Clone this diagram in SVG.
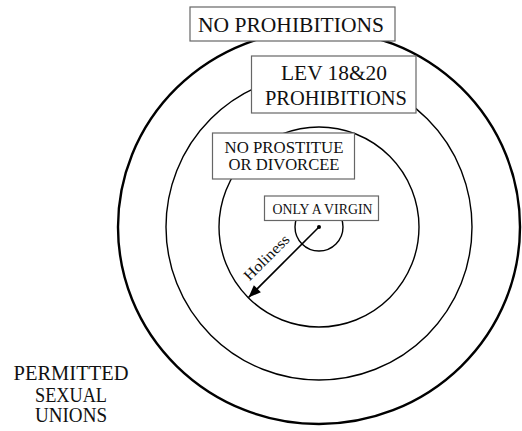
<svg xmlns="http://www.w3.org/2000/svg" width="522" height="431" viewBox="0 0 522 431" font-family="'Liberation Serif', 'DejaVu Serif', serif">
<style>
.ring{fill:none;stroke:#000;stroke-width:1.4}
.box{fill:#fff;stroke:#666;stroke-width:1.2}
text{fill:#111;text-anchor:middle}
</style>
<defs>
<marker id="ah" viewBox="0 0 10 8" refX="10" refY="4" markerWidth="15" markerHeight="10" markerUnits="userSpaceOnUse" orient="auto">
<path d="M0,0 L10,4 L0,8 Z" fill="#000"/>
</marker>
</defs>
<rect width="522" height="431" fill="#fff"/>
<g id="rings">
<ellipse id="ring-outer" cx="319" cy="227" rx="201" ry="197" fill="none" stroke="#000" stroke-width="2.4"/>
<circle id="ring-lev" class="ring" cx="319" cy="227" r="153"/>
<circle id="ring-prost" class="ring" cx="319" cy="227" r="100"/>
<circle id="ring-virgin" class="ring" cx="319" cy="227" r="24"/>
</g>
<g id="connectors">
<circle cx="319" cy="227" r="2" fill="#000"/>
<line x1="319" y1="227" x2="248.5" y2="297.5" stroke="#000" stroke-width="1.6" marker-end="url(#ah)"/>
<text x="0" y="0" font-size="15" textLength="58" lengthAdjust="spacingAndGlyphs" transform="translate(270,261) rotate(-45)">Holiness</text>
</g>
<g id="node-none">
<rect class="box" x="190" y="7" width="205" height="34"/>
<text x="291" y="32" font-size="21.5" textLength="186" lengthAdjust="spacingAndGlyphs">NO PROHIBITIONS</text>
</g>
<g id="node-lev">
<rect class="box" x="251.5" y="56" width="164.5" height="57"/>
<text x="334" y="79.5" font-size="20" textLength="106" lengthAdjust="spacingAndGlyphs">LEV 18&amp;20</text>
<text x="336" y="104.5" font-size="20" textLength="142" lengthAdjust="spacingAndGlyphs">PROHIBITIONS</text>
</g>
<g id="node-prost">
<rect class="box" x="212.5" y="133" width="142" height="46"/>
<text x="284" y="152.5" font-size="16.5" textLength="119" lengthAdjust="spacingAndGlyphs">NO PROSTITUE</text>
<text x="284" y="170" font-size="16.5" textLength="111" lengthAdjust="spacingAndGlyphs">OR DIVORCEE</text>
</g>
<g id="node-virgin">
<rect class="box" x="264.5" y="196" width="114" height="24.5"/>
<text x="322.5" y="213.5" font-size="14" textLength="100" lengthAdjust="spacingAndGlyphs">ONLY A VIRGIN</text>
</g>
<g id="node-permitted">
<text x="71" y="380" font-size="20" textLength="115" lengthAdjust="spacingAndGlyphs">PERMITTED</text>
<text x="71" y="401.5" font-size="20" textLength="72" lengthAdjust="spacingAndGlyphs">SEXUAL</text>
<text x="71" y="421.5" font-size="20" textLength="72" lengthAdjust="spacingAndGlyphs">UNIONS</text>
</g>
</svg>
